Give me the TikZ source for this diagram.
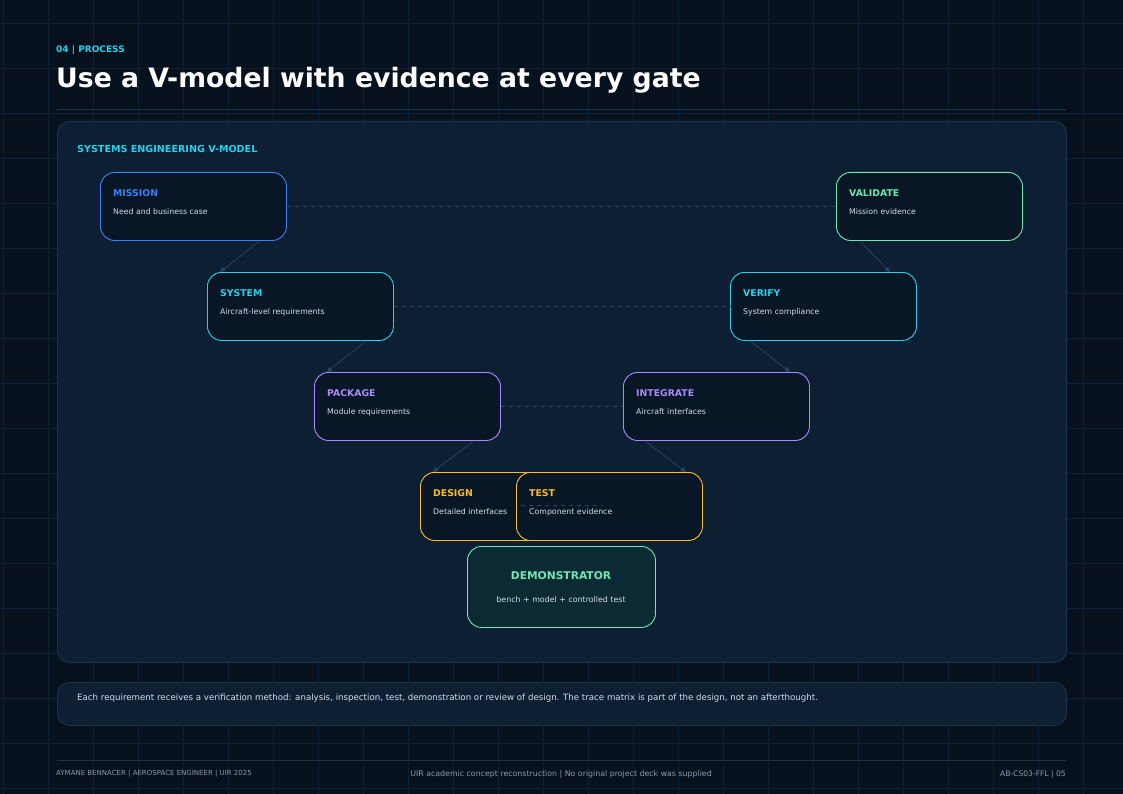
\documentclass[tikz,border=0pt]{standalone}
\usepackage{fontspec}
\setmainfont{DejaVu Sans}
\usetikzlibrary{arrows.meta}
\definecolor{bg}{HTML}{07111D}
\definecolor{panel}{HTML}{0D1F33}
\definecolor{panelb}{HTML}{1A3550}
\definecolor{boxf}{HTML}{081626}
\definecolor{demf}{HTML}{0B2A33}
\definecolor{cb}{HTML}{3B82F6}
\definecolor{cc}{HTML}{22D3EE}
\definecolor{cp}{HTML}{A78BFA}
\definecolor{co}{HTML}{FBBF24}
\definecolor{cg}{HTML}{6EE7B7}
\definecolor{txt}{HTML}{D6DEE8}
\definecolor{mut}{HTML}{8A9AAE}
\definecolor{conn}{HTML}{2A4560}
\definecolor{gridc}{HTML}{0E2034}
\begin{document}
\begin{tikzpicture}[x=1pt,y=-1pt,
 stage/.style={draw=#1,fill=boxf,rounded corners=14pt,line width=0.9pt,minimum width=186pt,minimum height=68pt,anchor=north west,inner sep=0pt},
 lab/.style={anchor=west,inner sep=0pt,font=\bfseries\fontsize{9.3}{11}\selectfont},
 desc/.style={anchor=west,inner sep=0pt,text=txt,font=\fontsize{7.8}{9}\selectfont},
 arr/.style={draw=conn,line width=0.7pt,-{Triangle[length=5pt,width=5pt]}},
 dsh/.style={draw=conn,line width=0.7pt,dash pattern=on 4pt off 4pt}]
\fill[bg] (0,0) rectangle (1123,794);
\useasboundingbox (0,0) rectangle (1123,794);
\foreach \i in {0,...,25} \draw[gridc,line width=0.5pt] (\i*45+3,0) -- (\i*45+3,794);
\foreach \j in {0,...,18} \draw[gridc,line width=0.5pt] (0,\j*45+23) -- (1123,\j*45+23);
\node[anchor=west,inner sep=0pt,text=cc,font=\bfseries\fontsize{9}{11}\selectfont] (kick) at (56,50) {04 | PROCESS};
\node[anchor=west,inner sep=0pt,text=white,font=\bfseries\fontsize{26.7}{32}\selectfont] (title) at (56,80) {Use a V-model with evidence at every gate};
\draw[panelb,line width=0.6pt] (57,109) -- (1066,109);
\node[draw=panelb,fill=panel,rounded corners=12pt,line width=0.8pt,minimum width=1009pt,minimum height=541pt,anchor=north west,inner sep=0pt] (panel) at (57,121) {};
\node[anchor=west,inner sep=0pt,text=cc,font=\bfseries\fontsize{9.6}{11}\selectfont] (ptitle) at (77,149) {SYSTEMS ENGINEERING V-MODEL};
% stages
\node[stage=cb] (mis) at (100,172) {};
\node[stage=cc] (sys) at (207,272) {};
\node[stage=cp] (pac) at (314,372) {};
\node[stage=co] (des) at (420,472) {};
\node[stage=co] (tes) at (516,472) {};
\node[stage=cp] (int) at (623,372) {};
\node[stage=cc] (ver) at (730,272) {};
\node[stage=cg] (val) at (836,172) {};
\foreach \n/\c/\a/\b in {mis/cb/MISSION/Need and business case, sys/cc/SYSTEM/Aircraft-level requirements, pac/cp/PACKAGE/Module requirements, des/co/DESIGN/Detailed interfaces, tes/co/TEST/Component evidence, int/cp/INTEGRATE/Aircraft interfaces, ver/cc/VERIFY/System compliance, val/cg/VALIDATE/Mission evidence}{
 \node[lab,text=\c] (\n l) at ([xshift=13pt,yshift=-21pt]\n.north west) {\a};
 \node[desc] (\n d) at ([xshift=13pt,yshift=-40pt]\n.north west) {\b};
}
% dashed links
\draw[dsh] (mis.east) -- (val.west);
\draw[dsh] (sys.east) -- (ver.west);
\draw[dsh] (pac.east) -- (int.west);
\draw[dsh] ([xshift=-86pt,yshift=1pt]des.east) -- ([xshift=-100pt,yshift=1pt]tes.east);
% arrows
\draw[arr] ([xshift=-27pt]mis.south east) -- ([xshift=13pt]sys.north west);
\draw[arr] ([xshift=-28pt]sys.south east) -- ([xshift=13pt]pac.north west);
\draw[arr] ([xshift=-27pt]pac.south east) -- ([xshift=13pt]des.north west);
\draw[arr] ([xshift=24pt]val.south west) -- ([xshift=-27pt]ver.north east);
\draw[arr] ([xshift=20pt]ver.south west) -- ([xshift=-20pt]int.north east);
\draw[arr] ([xshift=22pt]int.south west) -- ([xshift=-17pt]tes.north east);
\node[draw=cg,fill=demf,rounded corners=14pt,line width=0.9pt,minimum width=188pt,minimum height=81pt,anchor=north west,inner sep=0pt] (dem) at (467,546) {};
\node[text=cg,font=\bfseries\fontsize{10.7}{12}\selectfont] (deml) at (561,576) {DEMONSTRATOR};
\node[text=txt,font=\fontsize{7.9}{9}\selectfont] (demd) at (561,600) {bench + model + controlled test};
% note
\node[draw=panelb,fill=panel,rounded corners=12pt,line width=0.8pt,minimum width=1009pt,minimum height=43pt,anchor=north west,inner sep=0pt] (note) at (57,682) {};
\node[anchor=west,inner sep=0pt,text=txt,font=\fontsize{8.65}{10}\selectfont] (notet) at (77,698) {Each requirement receives a verification method: analysis, inspection, test, demonstration or review of design. The trace matrix is part of the design, not an afterthought.};
% footer
\draw[panelb,line width=0.6pt] (57,760) -- (1066,760);
\node[anchor=west,inner sep=0pt,text=mut,font=\fontsize{7}{8}\selectfont] (f1) at (56,774) {AYMANE BENNACER | AEROSPACE ENGINEER | UIR 2025};
\node[text=mut,inner sep=0pt,font=\fontsize{7.85}{8}\selectfont] (f2) at (561,774) {UIR academic concept reconstruction | No original project deck was supplied};
\node[anchor=east,inner sep=0pt,text=mut,font=\fontsize{7.6}{8}\selectfont] (f3) at (1066,774) {AB-CS03-FFL | 05};
\end{tikzpicture}
\end{document}
